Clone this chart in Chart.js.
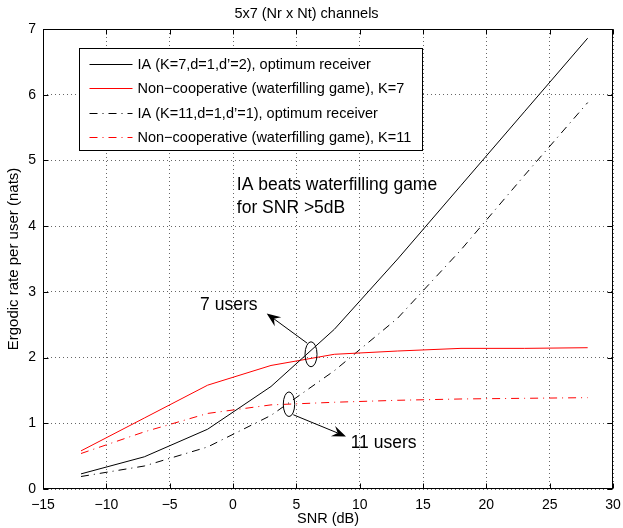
<!DOCTYPE html>
<html><head><meta charset="utf-8">
<script src="https://cdn.jsdelivr.net/npm/chart.js@4.4.0/dist/chart.umd.min.js"></script>
<style>html,body{margin:0;padding:0;background:#fff;}#wrap{width:623px;height:528px;position:relative;}</style>
</head><body><div id="wrap"><canvas id="c" width="623" height="528"></canvas></div>
<script>
// ---- data ----
const snr  = [-12, -7, -2, 3, 8, 13, 18, 23, 28];
const ia7  = [0.23, 0.49, 0.91, 1.56, 2.43, 3.50, 4.62, 5.74, 6.86];
const nc7  = [0.58, 1.08, 1.58, 1.88, 2.05, 2.10, 2.14, 2.14, 2.15];
const ia11 = [0.19, 0.35, 0.64, 1.12, 1.80, 2.60, 3.64, 4.77, 5.88];
const nc11 = [0.54, 0.87, 1.15, 1.28, 1.32, 1.35, 1.37, 1.38, 1.39];
const seriesLabels = [
  "IA (K=7,d=1,d\u2019=2), optimum receiver",
  "Non\u2212cooperative (waterfilling game), K=7",
  "IA (K=11,d=1,d\u2019=1), optimum receiver",
  "Non\u2212cooperative (waterfilling game), K=11"
];
const xTicks = [-15, -10, -5, 0, 5, 10, 15, 20, 25, 30];
const yTicks = [0, 1, 2, 3, 4, 5, 6, 7];
const titleText = "5x7 (Nr x Nt) channels";
const xTitle = "SNR (dB)";
const yTitle = "Ergodic rate per user (nats)";
const noteLines = ["IA beats waterfilling game", "for SNR >5dB"];
const label7 = "7 users";
const label11 = "11 users";

const FONT = "'Liberation Sans', Arial, Helvetica, sans-serif";
const DASHDOT = [8, 5, 1, 5];
const pts = (ys) => snr.map((x, i) => ({x: x, y: ys[i]}));

const decor = {
  id: 'decor',
  afterDraw(chart) {
    const ctx = chart.ctx;
    const a = chart.chartArea;
    const xs = chart.scales.x, ys = chart.scales.y;
    const L = Math.round(a.left) + 0.5, R = Math.round(a.right) - 0.5;
    const T = Math.round(a.top) + 0.5, B = Math.round(a.bottom) - 0.5;
    ctx.save();
    ctx.strokeStyle = '#000'; ctx.lineWidth = 1; ctx.setLineDash([]);
    ctx.beginPath();
    xTicks.forEach(v => {
      const px = Math.round(xs.getPixelForValue(v)) + 0.5;
      ctx.moveTo(px, B); ctx.lineTo(px, B - 5);
      ctx.moveTo(px, T); ctx.lineTo(px, T + 5);
    });
    yTicks.forEach(v => {
      const py = Math.round(ys.getPixelForValue(v)) + 0.5;
      ctx.moveTo(L, py); ctx.lineTo(L + 5, py);
      ctx.moveTo(R, py); ctx.lineTo(R - 5, py);
    });
    ctx.stroke();
    ctx.strokeRect(L, T, R - L, B - T);

    // legend
    const lx = Math.round(a.left + 36) + 0.5, ly = Math.round(a.top + 19) + 0.5;
    const lw = 343, lh = 102;
    ctx.fillStyle = '#fff';
    ctx.fillRect(lx, ly, lw, lh);
    ctx.strokeStyle = '#000';
    ctx.strokeRect(lx, ly, lw, lh);
    ctx.font = '14.5px ' + FONT;
    ctx.textBaseline = 'middle';
    ctx.textAlign = 'left';
    chart.data.datasets.forEach((ds, i) => {
      const cy = Math.round(ly + 15.5 + i * 24.4) + 0.5;
      ctx.strokeStyle = ds.borderColor;
      ctx.lineWidth = 1;
      ctx.setLineDash(ds.borderDash || []);
      ctx.beginPath(); ctx.moveTo(lx + 10, cy); ctx.lineTo(lx + 53, cy); ctx.stroke();
      ctx.setLineDash([]);
      ctx.fillStyle = '#000';
      ctx.fillText(ds.label, lx + 58, cy);
    });

    // note text
    ctx.fillStyle = '#000';
    ctx.font = '17.5px ' + FONT;
    ctx.textBaseline = 'middle';
    const nx = xs.getPixelForValue(0.3);
    ctx.fillText(noteLines[0], nx, ys.getPixelForValue(4.63));
    ctx.fillText(noteLines[1], nx, ys.getPixelForValue(4.27));

    ctx.fillText(label7, xs.getPixelForValue(-2.6), ys.getPixelForValue(2.8));
    ctx.fillText(label11, xs.getPixelForValue(9.29), ys.getPixelForValue(0.70));

    const ell = (x, y, rx, ry) => {
      ctx.beginPath();
      ctx.ellipse(xs.getPixelForValue(x), ys.getPixelForValue(y), rx, ry, 0, 0, Math.PI * 2);
      ctx.strokeStyle = '#000'; ctx.lineWidth = 1; ctx.stroke();
    };
    ell(6.16, 2.05, 6, 12.5);
    ell(4.42, 1.29, 5.7, 12.3);

    const arrow = (x0, y0, x1, y1) => {
      const p0 = [xs.getPixelForValue(x0), ys.getPixelForValue(y0)];
      const p1 = [xs.getPixelForValue(x1), ys.getPixelForValue(y1)];
      const dx = p1[0] - p0[0], dy = p1[1] - p0[1];
      const len = Math.hypot(dx, dy), ux = dx / len, uy = dy / len;
      const nx2 = -uy, ny2 = ux;
      const hl = 14, hw = 5.5, notch = 9;
      ctx.strokeStyle = '#000'; ctx.lineWidth = 1;
      ctx.beginPath(); ctx.moveTo(p0[0], p0[1]);
      ctx.lineTo(p1[0] - ux * notch, p1[1] - uy * notch); ctx.stroke();
      ctx.beginPath();
      ctx.moveTo(p1[0], p1[1]);
      ctx.lineTo(p1[0] - ux * hl + nx2 * hw, p1[1] - uy * hl + ny2 * hw);
      ctx.lineTo(p1[0] - ux * notch, p1[1] - uy * notch);
      ctx.lineTo(p1[0] - ux * hl - nx2 * hw, p1[1] - uy * hl - ny2 * hw);
      ctx.closePath();
      ctx.fillStyle = '#000'; ctx.fill();
    };
    arrow(5.85, 2.22, 2.66, 2.67);
    arrow(4.76, 1.13, 8.92, 0.80);
    ctx.restore();
  }
};

new Chart(document.getElementById('c'), {
  type: 'line',
  data: {
    datasets: [
      {label: seriesLabels[0], data: pts(ia7), borderColor: '#000000', borderWidth: 1, borderDash: []},
      {label: seriesLabels[1], data: pts(nc7), borderColor: '#ff0000', borderWidth: 1, borderDash: []},
      {label: seriesLabels[2], data: pts(ia11), borderColor: '#000000', borderWidth: 1, borderDash: DASHDOT},
      {label: seriesLabels[3], data: pts(nc11), borderColor: '#ff0000', borderWidth: 1, borderDash: DASHDOT}
    ]
  },
  options: {
    responsive: false,
    devicePixelRatio: 1,
    animation: false,
    layout: {padding: {top: 0, right: 10, left: 0, bottom: 0}},
    elements: {point: {radius: 0}, line: {tension: 0, fill: false}},
    plugins: {
      legend: {display: false},
      tooltip: {enabled: false},
      title: {display: true, text: titleText, color: '#000',
        font: {family: FONT, size: 14.5, weight: 'normal', lineHeight: 1.2},
        padding: {top: 4.8, bottom: 6.8}}
    },
    scales: {
      x: {
        type: 'linear', min: -15, max: 30,
        afterBuildTicks: (s) => { s.ticks = xTicks.map(v => ({value: v})); },
        afterFit: (s) => { s.height = 39; s.paddingLeft = 0; s.paddingRight = 0; },
        ticks: {color: '#000', padding: 8, maxRotation: 0, autoSkip: false,
          font: {family: FONT, size: 14},
          callback: (v) => (v < 0 ? '\u2212' + Math.abs(v) : String(v))},
        grid: {color: 'rgba(0,0,0,0.6)', lineWidth: 1, drawTicks: false},
        border: {display: false, dash: [1, 3]},
        title: {display: true, text: xTitle, color: '#000', font: {family: FONT, size: 14.5, lineHeight: 1.2}, padding: {top: 0, bottom: 0}}
      },
      y: {
        type: 'linear', min: 0, max: 7,
        afterBuildTicks: (s) => { s.ticks = yTicks.map(v => ({value: v})); },
        afterFit: (s) => { s.width = 43; },
        ticks: {color: '#000', padding: 7, font: {family: FONT, size: 14}},
        grid: {color: 'rgba(0,0,0,0.6)', lineWidth: 1, drawTicks: false},
        border: {display: false, dash: [1, 3]},
        title: {display: true, text: yTitle, color: '#000', font: {family: FONT, size: 15, lineHeight: 1.2}, padding: {top: 5, bottom: 0}}
      }
    }
  },
  plugins: [decor]
});
</script></body></html>
